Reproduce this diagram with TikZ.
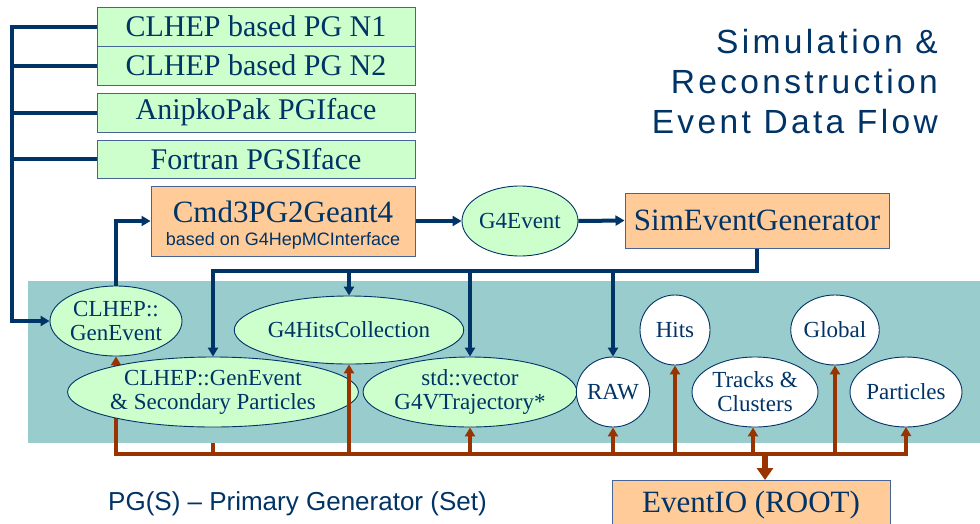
\documentclass[tikz,border=0pt]{standalone}
\usepackage{fontspec}
\setmainfont{Liberation Serif}
\setsansfont{Liberation Sans}
\newfontfamily\titlefont[LetterSpace=10]{Liberation Sans}
\usetikzlibrary{shapes.geometric,arrows.meta}
\definecolor{txtblue}{RGB}{0,51,102}
\definecolor{lnblue}{RGB}{0,51,102}
\definecolor{lnbrown}{RGB}{153,51,0}
\definecolor{bordblue}{RGB}{70,100,150}
\definecolor{gfill}{RGB}{204,255,204}
\definecolor{ofill}{RGB}{255,204,153}
\definecolor{tealbg}{RGB}{153,204,204}
\tikzset{
  gbox/.style={draw=bordblue,line width=1pt,fill=gfill,minimum width=318pt,inner sep=0pt,
    text=txtblue,font=\fontsize{30}{32}\selectfont},
  obox/.style={draw=bordblue,line width=1pt,fill=ofill,inner sep=0pt,text=txtblue},
  gell/.style={ellipse,draw=txtblue,line width=0.9pt,fill=gfill,inner sep=0pt,text=txtblue,
    align=center,font=\fontsize{23}{24}\selectfont},
  well/.style={gell,fill=white},
  bl/.style={draw=lnblue,line width=4pt},
  br/.style={draw=lnbrown,line width=4pt},
  tip/.style={-{Triangle[length=9pt,width=10pt]}},
  tipb/.style={{Triangle[length=9pt,width=10pt]}-{Triangle[length=9pt,width=10pt]}},
}
\begin{document}
\begin{tikzpicture}[x=1pt,y=-1pt]
\clip (0,0) rectangle (980,523);
\fill[white] (0,0) rectangle (980,523);
% ellipse for stub (needed before teal)
\node[gell,minimum width=248pt,minimum height=70pt] (sec0) at (213,392) {};
\coordinate (bus2) at (0,454);
\draw[br] (sec0.south) -- (sec0.south |- bus2);
% teal background
\fill[tealbg] (28,281) rectangle (980,443);
% boxes
\node[gbox,minimum height=39pt] (n1) at (256,26.5) {CLHEP based PG N1};
\node[gbox,minimum height=39pt] (n2) at (256,65.5) {CLHEP based PG N2};
\node[gbox,minimum height=39pt] (ani) at (256,112.5) {AnipkoPak PGIface};
\node[gbox,minimum height=38pt] (fort) at (256,159) {Fortran PGSIface};
\node[obox,minimum width=264pt,minimum height=70pt] (cmd) at (283,221) {};
\node[anchor=base,text=txtblue,font=\fontsize{31}{33}\selectfont,inner sep=0pt] (cmdt) at (283,222) {Cmd3PG2Geant4};
\node[anchor=base,text=txtblue,font=\sffamily\fontsize{18}{20}\selectfont,inner sep=0pt] (cmds) at (283,245) {based on G4HepMCInterface};
\node[gell,minimum width=116pt,minimum height=70pt] (g4ev) at (520,221) {G4Event};
\node[obox,minimum width=264pt,minimum height=55pt,font=\fontsize{31}{33}\selectfont] (sim) at (757,220.5) {SimEventGenerator};
% ellipses in teal
\node[gell,minimum width=132pt,minimum height=70pt] (genev) at (116,321) {CLHEP::\\GenEvent};
\node[gell,minimum width=178pt,minimum height=68pt] (hitsc) at (349,330) {G4HitsCollection};
% brown lines behind secondary ellipse
\draw[br,tipb] (genev.south) -- (genev.south |- bus2) -| (906,427);
\node[gell,minimum width=248pt,minimum height=70pt] (sec) at (213,392) {CLHEP::GenEvent\\\& Secondary Particles};
\node[gell,minimum width=202pt,minimum height=70pt] (traj) at (470,392) {std::vector\\G4VTrajectory*};
\node[well,minimum width=70pt,minimum height=70pt] (raw) at (613,392) {RAW};
\node[well,minimum width=70pt,minimum height=70pt] (hits) at (675,330) {Hits};
\node[well,minimum width=126pt,minimum height=70pt] (tracks) at (755,392) {Tracks \&\\Clusters};
\node[well,minimum width=82pt,minimum height=70pt] (global) at (835,330) {Global};
\node[well,minimum width=94pt,minimum height=70pt] (part) at (906,392) {Particles};
\node[obox,minimum width=278pt,minimum height=60pt,anchor=north] (eventio) at (751,480) {};
\node[anchor=base,text=txtblue,font=\fontsize{31}{33}\selectfont,inner sep=0pt] (eventiot) at (751,512) {EventIO (ROOT)};
% blue connectors
\coordinate (lb) at (12,321);
\draw[bl,tip] (n1.west) -| (lb) -- (genev.west);
\draw[bl] (n2.west) -- (n2.west -| lb);
\draw[bl] (ani.west) -- (ani.west -| lb);
\draw[bl] (fort.west) -- (fort.west -| lb);
\draw[bl,tip] (genev.north) |- (cmd.west);
\draw[bl,tip] (cmd.east) -- (g4ev.west);
\draw[bl,tip] (g4ev.east) -- (sim.west);
\coordinate (bus1) at (0,271);
\draw[bl,tip] (sim.south) |- (sec.north |- bus1) -- (sec.north);
\draw[bl,tip] (hitsc.north |- bus1) -- (hitsc.north);
\draw[bl,tip] (traj.north |- bus1) -- (traj.north);
\draw[bl,tip] (raw.north |- bus1) -- (raw.north);
% brown connectors
\draw[br,tip] (hitsc.south |- bus2) -- (hitsc.south);
\draw[br,tip] (traj.south |- bus2) -- (traj.south);
\draw[br,tip] (raw.south |- bus2) -- (raw.south);
\draw[br,tip] (hits.south |- bus2) -- (hits.south);
\draw[br,tip] ([xshift=-2pt]tracks.south |- bus2) -- ([xshift=-2pt]tracks.south);
\draw[br,tip] (global.south |- bus2) -- (global.south);
\draw[br,line width=6pt,-{Triangle[length=12pt,width=16pt]}] ([xshift=14pt]eventio.north |- bus2) -- ([xshift=14pt]eventio.north);
% texts
\node[anchor=base east,align=right,text=txtblue,inner sep=0pt,
  font=\titlefont\fontsize{33.5}{40}\selectfont] (title) at (938,133) {Simulation \&\\Reconstruction\\Event Data Flow};
\node[anchor=base west,text=txtblue,inner sep=0pt,font=\sffamily\fontsize{26}{28}\selectfont] (pgs) at (108,510) {PG(S) -- Primary Generator (Set)};
\end{tikzpicture}
\end{document}
